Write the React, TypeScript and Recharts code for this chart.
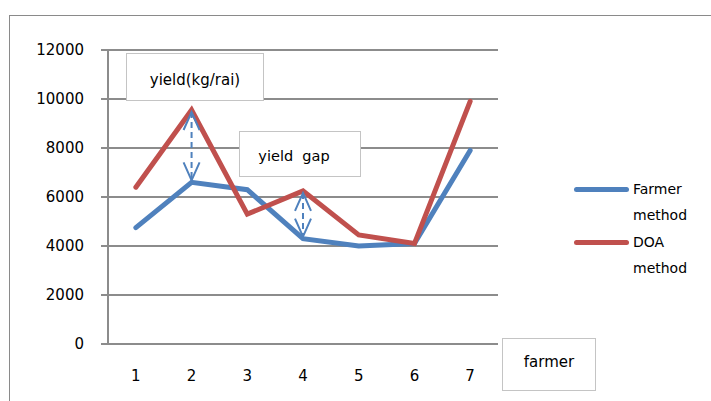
import { LineChart, Line, XAxis, YAxis, CartesianGrid, ReferenceLine } from "recharts";

const farmers = [1, 2, 3, 4, 5, 6, 7];
const farmerMethod = [4750, 6600, 6300, 4300, 4000, 4100, 7900];
const doaMethod = [6400, 9550, 5300, 6250, 4450, 4100, 9900];
const yTicks = [0, 2000, 4000, 6000, 8000, 10000, 12000];
const edgeTicks = [0.5, 1.5, 2.5, 3.5, 4.5, 5.5, 6.5, 7.5];
// farmers where the gap between the two methods is marked
const gapFarmers = [2, 4];

const series = [
  { key: "farmer", name: "Farmer method", color: "#4F81BD" },
  { key: "doa", name: "DOA method", color: "#C0504D" },
];

const data = farmers.map((f, i) => ({
  x: f,
  farmer: farmerMethod[i],
  doa: doaMethod[i],
}));

const font = "'DejaVu Sans', sans-serif";
const gridColor = "#8c8c8c";

function GapArrow(props: any) {
  const { x1, y1, x2, y2 } = props;
  const c = "#4F81BD";
  const top = Math.min(y1, y2);
  const bot = Math.max(y1, y2);
  return (
    <g stroke={c} strokeWidth={2} fill="none">
      <line x1={x1} y1={top + 2} x2={x2} y2={bot - 2} strokeDasharray="6 4" />
      <polyline points={`${x1 - 8},${top + 20} ${x1},${top + 2} ${x1 + 8},${top + 20}`} />
      <polyline points={`${x1 - 8},${bot - 20} ${x1},${bot - 2} ${x1 + 8},${bot - 20}`} />
    </g>
  );
}

const box = {
  position: "absolute" as const,
  border: "1.5px solid #c4c4c4",
  background: "#fff",
  fontFamily: font,
  color: "#000",
  boxSizing: "border-box" as const,
  display: "flex",
  justifyContent: "center",
};

export default function App() {
  return (
    <div style={{ position: "absolute", left: 0, top: 0, width: 711, height: 401, background: "#fff", overflow: "hidden" }}>
      <div
        style={{
          position: "absolute",
          left: 9,
          top: 15,
          width: 720,
          height: 400,
          borderTop: "1.5px solid #8a8a8a",
          borderLeft: "1.5px solid #8a8a8a",
        }}
      />
      <LineChart
        width={711}
        height={401}
        data={data}
        margin={{ top: 50, right: 213, bottom: 0, left: 48 }}
        style={{ position: "absolute", left: 0, top: 0 }}
      >
        <CartesianGrid vertical={false} stroke={gridColor} strokeWidth={2} />
        <XAxis
          xAxisId="edges"
          dataKey="x"
          type="number"
          domain={[0.5, 7.5]}
          ticks={edgeTicks}
          tick={false}
          tickSize={7}
          height={0}
          axisLine={{ stroke: gridColor, strokeWidth: 2 }}
          tickLine={{ stroke: gridColor, strokeWidth: 2 }}
        />
        <XAxis
          dataKey="x"
          type="number"
          domain={[0.5, 7.5]}
          ticks={farmers}
          axisLine={false}
          tickLine={false}
          tickSize={0}
          tickMargin={26}
          height={57}
          tick={{ fill: "#000", fontSize: 15, fontFamily: font }}
        />
        <YAxis
          domain={[0, 12000]}
          ticks={yTicks}
          width={60}
          tickSize={7}
          tickMargin={17}
          axisLine={{ stroke: gridColor, strokeWidth: 2 }}
          tickLine={{ stroke: gridColor, strokeWidth: 2 }}
          tick={{ fill: "#000", fontSize: 15, fontFamily: font }}
        />
        {series.map((s) => (
          <Line
            key={s.key}
            dataKey={s.key}
            name={s.name}
            stroke={s.color}
            strokeWidth={5}
            strokeLinecap="round"
            dot={false}
            activeDot={false}
            type="linear"
            isAnimationActive={false}
          />
        ))}
        {gapFarmers.map((f) => (
          <ReferenceLine
            key={f}
            segment={[
              { x: f, y: doaMethod[f - 1] },
              { x: f, y: farmerMethod[f - 1] },
            ]}
            shape={GapArrow}
          />
        ))}
      </LineChart>

      <div style={{ ...box, left: 126, top: 53, width: 138, height: 48, paddingTop: 17, fontSize: 15 }}>
        yield(kg/rai)
      </div>
      <div style={{ ...box, left: 239, top: 131, width: 122, height: 46, paddingTop: 16, paddingRight: 12, fontSize: 14.5, whiteSpace: "pre" }}>
        {"yield  gap"}
      </div>
      <div style={{ ...box, left: 502, top: 338, width: 94, height: 53, paddingTop: 14, fontSize: 15 }}>
        farmer
      </div>

      <div style={{ position: "absolute", left: 574, top: 176, fontFamily: font, fontSize: 14, color: "#000" }}>
        {series.map((s) => (
          <div key={s.key} style={{ display: "flex", alignItems: "flex-start", height: 53 }}>
            <div
              style={{
                width: 55,
                height: 5,
                borderRadius: 3,
                background: s.color,
                marginTop: 11,
                marginRight: 4,
              }}
            />
            <div style={{ width: 60, lineHeight: "26px" }}>{s.name}</div>
          </div>
        ))}
      </div>
    </div>
  );
}
